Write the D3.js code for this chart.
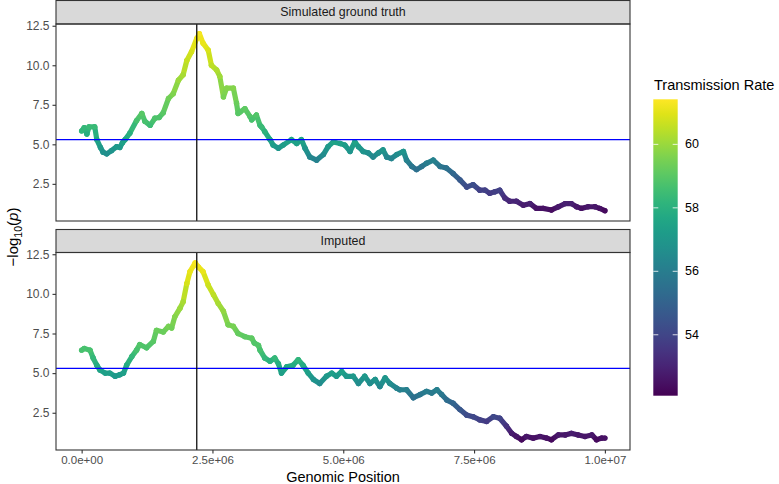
<!DOCTYPE html>
<html>
<head>
<meta charset="utf-8">
<script src="https://cdn.jsdelivr.net/npm/d3@7"></script>
<style>
  body { margin: 0; background: #fff; }
  svg { display: block; font-family: "Liberation Sans", Arial, sans-serif; }
</style>
</head>
<body>
<svg width="779" height="484"></svg>
<script>
// position in Mb, -log10(p), transmission rate
const truthPos = [0.00,0.05,0.10,0.14,0.25,0.29,0.36,0.41,0.48,0.57,0.67,0.73,0.78,0.83,0.92,1.05,1.15,1.21,1.31,1.40,
  1.48,1.56,1.66,1.75,1.85,1.94,2.01,2.10,2.20,2.25,2.32,2.42,2.48,2.58,2.64,2.71,2.77,2.90,2.96,2.99,
  3.03,3.12,3.22,3.25,3.34,3.41,3.44,3.50,3.60,3.66,3.76,3.85,4.01,4.11,4.20,4.27,4.36,4.49,4.62,4.71,
  4.81,4.94,5.03,5.13,5.22,5.29,5.38,5.48,5.57,5.67,5.76,5.83,5.92,6.02,6.15,6.21,6.31,6.40,6.50,6.59,
  6.72,6.85,6.97,7.10,7.23,7.36,7.48,7.61,7.71,7.80,7.90,7.99,8.09,8.18,8.31,8.44,8.57,8.69,8.82,8.98,
  9.11,9.24,9.36,9.46,9.55,9.68,9.81,9.90,10.00];
const truthLogP = [5.85,6.05,5.65,6.1,6.1,5.3,4.8,4.5,4.4,4.6,4.85,4.8,5.1,5.3,5.7,6.5,6.95,6.45,6.2,6.65,
  6.7,7.0,7.9,8.2,9.05,9.4,10.3,10.85,11.7,12.0,11.4,10.95,10.0,9.7,9.3,8.0,8.55,8.55,7.6,6.95,
  7.05,7.25,6.75,6.55,6.85,6.2,6.1,5.8,5.3,4.95,4.75,4.95,5.3,5.05,5.3,4.75,4.2,4.0,4.35,4.85,
  5.15,5.05,4.95,4.55,5.15,4.85,4.55,4.45,4.2,4.45,4.65,4.2,4.1,4.35,4.55,4.0,3.6,3.4,3.6,3.8,
  4.0,3.6,3.5,3.15,2.75,2.3,2.45,2.1,2.1,1.9,2.0,2.1,1.6,1.4,1.4,1.15,1.25,0.95,0.95,0.85,
  1.05,1.25,1.25,1.05,0.95,1.05,1.05,0.95,0.8];
const truthRate = [58.2,58.3,57.9,58.4,58.4,57.6,57.1,56.8,56.7,56.9,57.1,57.1,57.4,57.6,58.0,58.7,59.0,58.7,58.5,58.8,
  58.8,59.0,59.4,59.6,60.0,60.2,60.6,60.8,61.2,61.3,61.1,60.9,60.5,60.3,60.1,59.5,59.7,59.7,59.3,59.0,
  59.0,59.1,58.9,58.7,58.9,58.5,58.4,58.1,57.6,57.2,57.0,57.2,57.6,57.4,57.6,57.0,56.4,56.2,56.6,57.1,
  57.5,57.4,57.2,56.9,57.5,57.1,56.9,56.7,56.4,56.7,57.0,56.4,56.3,56.6,56.9,56.2,55.7,55.5,55.7,56.0,
  56.2,55.7,55.6,55.2,54.7,54.2,54.3,53.9,53.9,53.7,53.8,53.9,53.3,53.1,53.1,52.8,52.9,52.5,52.5,52.4,
  52.7,52.9,52.9,52.7,52.5,52.7,52.7,52.5,52.3];

const impPos = [0.00,0.05,0.16,0.22,0.29,0.35,0.45,0.54,0.64,0.73,0.80,0.86,0.96,1.05,1.11,1.24,1.37,1.43,1.56,1.66,
  1.72,1.78,1.88,1.94,2.01,2.07,2.17,2.23,2.32,2.42,2.52,2.61,2.71,2.80,2.90,2.99,3.12,3.25,3.30,3.38,
  3.41,3.50,3.60,3.69,3.76,3.82,3.92,4.04,4.14,4.23,4.33,4.43,4.55,4.68,4.78,4.87,4.97,5.06,5.19,5.29,
  5.41,5.51,5.61,5.70,5.80,5.89,6.02,6.08,6.21,6.34,6.47,6.59,6.69,6.79,6.88,6.98,7.10,7.23,7.36,7.48,
  7.61,7.74,7.87,7.99,8.12,8.22,8.31,8.41,8.50,8.63,8.76,8.89,8.98,9.11,9.24,9.36,9.49,9.62,9.75,9.84,
  9.94,10.00];
const impLogP = [6.45,6.55,6.45,5.95,5.5,5.2,5.0,5.0,4.8,4.9,5.0,5.5,6.05,6.45,6.8,6.6,7.0,7.7,7.6,7.95,
  7.85,8.55,9.1,9.5,10.65,11.4,11.95,11.7,11.4,10.55,9.95,9.4,8.9,8.05,7.95,7.5,7.3,7.2,6.9,6.75,
  6.45,5.95,5.75,5.95,5.6,5.0,5.4,5.5,5.85,5.5,5.0,4.6,4.35,4.8,5.0,4.8,5.1,4.8,4.8,4.35,
  4.8,4.35,4.6,4.15,4.7,4.35,4.05,3.95,3.95,3.45,3.65,3.85,3.75,3.95,3.65,3.3,3.1,2.7,2.35,2.25,
  2.05,1.95,2.25,2.15,1.65,1.2,1.0,0.8,1.0,0.9,1.0,0.9,0.8,1.1,1.1,1.2,1.1,1.0,1.1,0.8,
  0.9,0.9];
const impRate = [58.7,58.7,58.7,58.3,57.8,57.5,57.3,57.3,57.1,57.2,57.3,57.8,58.3,58.7,58.9,58.8,59.0,59.3,59.3,59.5,
  59.4,59.7,60.0,60.2,60.8,61.1,61.3,61.2,61.1,60.7,60.5,60.2,59.9,59.5,59.5,59.2,59.1,59.1,58.9,58.9,
  58.7,58.3,58.0,58.3,57.9,57.3,57.7,57.8,58.2,57.8,57.3,56.9,56.6,57.1,57.3,57.1,57.4,57.1,57.1,56.6,
  57.1,56.6,56.9,56.4,57.0,56.6,56.3,56.1,56.1,55.5,55.8,56.0,55.9,56.1,55.8,55.4,55.1,54.6,54.2,54.1,
  53.9,53.7,54.1,54.0,53.4,52.8,52.6,52.3,52.6,52.5,52.6,52.5,52.3,52.7,52.7,52.8,52.7,52.6,52.7,52.3,
  52.5,52.5];

const panelTitles = ["Simulated ground truth", "Imputed"];
const xTicks = [0, 2.5, 5, 7.5, 10];
const yTicks = [2.5, 5, 7.5, 10, 12.5];
const legendTicks = [54, 56, 58, 60];
const rateRange = [52.08, 61.42];
const threshold = 5.3;     // -log10(5e-6)
const peakPos = 2.2;       // simulated causal site

const svg = d3.select("svg");
const left = 56, right = 630;
const panels = [
  { title: panelTitles[0], pos: truthPos, logp: truthLogP, rate: truthRate, stripTop: 0.5, top: 24, bottom: 221 },
  { title: panelTitles[1], pos: impPos, logp: impLogP, rate: impRate, stripTop: 229.5, top: 252.5, bottom: 450 }
];

const x = d3.scaleLinear().domain([-0.49, 10.48]).range([left, right]);
const color = d3.scaleSequential(d3.interpolateViridis).domain(rateRange);

function sci(v) {
  const s = (v * 1e6).toExponential(1);
  return s.replace(/e([+-])(\d+)$/, function(m, sign, e) { return "e" + sign + (e.length < 2 ? "0" + e : e); });
}

panels.forEach(function(p, k) {
  const y = d3.scaleLinear().domain([0.15, 12.61]).range([p.bottom, p.top]);

  // strip
  svg.append("rect")
    .attr("x", left).attr("y", p.stripTop)
    .attr("width", right - left).attr("height", p.top - p.stripTop)
    .attr("fill", "#d9d9d9").attr("stroke", "#333").attr("stroke-width", 1.1);
  svg.append("text")
    .attr("x", (left + right) / 2).attr("y", (p.stripTop + p.top) / 2)
    .attr("text-anchor", "middle").attr("dominant-baseline", "central")
    .attr("font-size", 12.4).attr("fill", "#1a1a1a")
    .text(p.title);

  const g = svg.append("g");
  const pts = p.pos.map(function(d, i) { return { pos: d, logp: p.logp[i], rate: p.rate[i] }; });

  // thick band of points: segments between neighbours
  g.selectAll("line.seg")
    .data(d3.pairs(pts))
    .join("line")
    .attr("class", "seg")
    .attr("x1", function(d) { return x(d[0].pos); })
    .attr("y1", function(d) { return y(d[0].logp); })
    .attr("x2", function(d) { return x(d[1].pos); })
    .attr("y2", function(d) { return y(d[1].logp); })
    .attr("stroke", function(d) { return color((d[0].rate + d[1].rate) / 2); })
    .attr("stroke-width", 5.2)
    .attr("stroke-linecap", "round");

  g.selectAll("circle")
    .data(pts)
    .join("circle")
    .attr("cx", function(d) { return x(d.pos); })
    .attr("cy", function(d) { return y(d.logp); })
    .attr("r", 2.7)
    .attr("fill", function(d) { return color(d.rate); });

  // reference lines
  svg.append("line")
    .attr("x1", left).attr("x2", right)
    .attr("y1", y(threshold)).attr("y2", y(threshold))
    .attr("stroke", "#0000ff").attr("stroke-width", 1.1);
  svg.append("line")
    .attr("x1", x(peakPos)).attr("x2", x(peakPos))
    .attr("y1", p.top).attr("y2", p.bottom)
    .attr("stroke", "#111").attr("stroke-width", 1.3);

  // panel border
  svg.append("rect")
    .attr("x", left).attr("y", p.top)
    .attr("width", right - left).attr("height", p.bottom - p.top)
    .attr("fill", "none").attr("stroke", "#333").attr("stroke-width", 1.1);

  // y axis
  const ya = svg.append("g")
    .attr("transform", "translate(" + left + ",0)")
    .call(d3.axisLeft(y).tickValues(yTicks).tickFormat(d3.format(".1f")).tickSize(3.5).tickPadding(3));
  ya.select(".domain").remove();
  ya.selectAll(".tick line").attr("stroke", "#333").attr("stroke-width", 1.1);
  ya.selectAll(".tick text").attr("fill", "#4d4d4d").attr("font-size", 12)
    .attr("font-family", "Liberation Sans, Arial, sans-serif");

  if (k === 1) {
    const xa = svg.append("g")
      .attr("transform", "translate(0," + p.bottom + ")")
      .call(d3.axisBottom(x).tickValues(xTicks).tickFormat(sci).tickSize(3.5).tickPadding(2));
    xa.select(".domain").remove();
    xa.selectAll(".tick line").attr("stroke", "#333").attr("stroke-width", 1.1);
    xa.selectAll(".tick text").attr("fill", "#4d4d4d").attr("font-size", 11.5)
      .attr("font-family", "Liberation Sans, Arial, sans-serif");
  }
});

// axis titles
svg.append("text")
  .attr("x", (left + right) / 2).attr("y", 481.5)
  .attr("text-anchor", "middle").attr("font-size", 14.5).attr("fill", "#000")
  .text("Genomic Position");

const yt = svg.append("text")
  .attr("transform", "translate(18,237) rotate(-90)")
  .attr("text-anchor", "middle").attr("font-size", 15).attr("fill", "#000");
yt.append("tspan").text("\u2212log");
yt.append("tspan").attr("font-size", 10.5).attr("dy", 4).text("10");
yt.append("tspan").attr("dy", -4).text("(");
yt.append("tspan").attr("font-style", "italic").text("p");
yt.append("tspan").text(")");

// colour bar legend
const barX = 653.3, barW = 24.4, barTop = 99.3, barBottom = 395.7;
const ly = d3.scaleLinear().domain(rateRange).range([barBottom, barTop]);
const grad = svg.append("defs").append("linearGradient")
  .attr("id", "viridis").attr("x1", 0).attr("y1", 1).attr("x2", 0).attr("y2", 0);
d3.range(0, 1.0001, 0.05).forEach(function(t) {
  grad.append("stop").attr("offset", t).attr("stop-color", d3.interpolateViridis(t));
});
svg.append("rect")
  .attr("x", barX).attr("y", barTop).attr("width", barW).attr("height", barBottom - barTop)
  .attr("fill", "url(#viridis)");
legendTicks.forEach(function(v) {
  [[barX, barX + 5], [barX + barW - 5, barX + barW]].forEach(function(s) {
    svg.append("line")
      .attr("x1", s[0]).attr("x2", s[1]).attr("y1", ly(v)).attr("y2", ly(v))
      .attr("stroke", "#fff").attr("stroke-opacity", 0.8).attr("stroke-width", 1);
  });
  svg.append("text")
    .attr("x", 685).attr("y", ly(v))
    .attr("dominant-baseline", "central").attr("font-size", 12.5).attr("fill", "#000")
    .text(v);
});
svg.append("text")
  .attr("x", 654).attr("y", 89.5)
  .attr("font-size", 14.5).attr("fill", "#000")
  .text("Transmission Rate");
</script>
</body>
</html>
